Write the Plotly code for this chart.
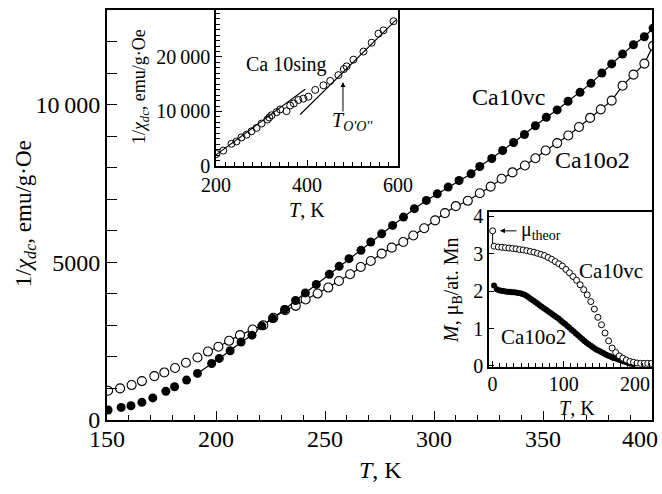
import plotly.graph_objects as go

# ---------------- main panel: 1/chi_dc vs T ----------------
T_vc = [150.5, 156.5, 161, 166, 171, 177, 181, 186.5, 191.5, 198, 201.5, 206.5, 211.5, 216.5, 221,
        226, 231.5, 236.5, 241, 246, 252, 256.5, 261, 266.5, 271, 276, 281, 286, 291, 296.5,
        301.5, 306.5, 311.5, 317, 321, 326.5, 331.5, 336.5, 341.5, 346.5, 351.5, 356.5, 361.5,
        367, 372, 377, 381.5, 386.5, 391.5, 396.5, 400.5]
chi_vc = [316, 400, 453, 560, 700, 910, 1054, 1266, 1477, 1793, 1952, 2194, 2470, 2690, 2985,
          3220, 3502, 3790, 4030, 4300, 4620, 4873, 5116, 5380, 5643, 5907, 6171, 6434, 6700, 6962,
          7170, 7384, 7595, 7806, 8038, 8290, 8544, 8800, 9051, 9330, 9600, 9832, 10105,
          10390, 10674, 11000, 11290, 11603, 11899, 12152, 12426]

T_o2 = [150.5, 156, 161.3, 166, 171.7, 176.3, 181.2, 186.2, 191.5, 196.3, 201.1, 206, 211, 216.8,
        221.7, 226.3, 231.7, 236.6, 241.1, 246.6, 251.5, 256.4, 261.5, 266.4, 271, 276, 280.6,
        285.9, 290.5, 295.5, 300.5, 305, 310, 315.5, 321, 326, 331, 336, 341.7, 346.5, 351.2,
        356.5, 361.6, 366.5, 371.6, 376.5, 381.5, 386.5, 391.5, 396.5, 400.5]
chi_o2 = [928, 1002, 1108, 1234, 1392, 1508, 1650, 1814, 1983, 2170, 2321, 2511, 2690, 2869,
          3006, 3240, 3481, 3620, 3819, 4009, 4199, 4409, 4620, 4852, 5041, 5275, 5465,
          5643, 5850, 6080, 6330, 6560, 6780, 6950, 7190, 7400, 7650, 7850, 8070, 8300, 8544,
          8780, 9019, 9290, 9578, 9850, 10127, 10600, 10950, 11300, 11867]
line_from_vc = 191   # the guide line through the points starts here (K)
line_from_o2 = 196

# ---------------- inset 1: Ca 10sing ----------------
T_sing = [201, 216, 234, 245, 256, 267, 278, 289, 300, 313, 317, 322, 333, 341, 355, 363, 371,
          381, 392, 403, 418, 436, 451, 469, 481, 487, 502, 524, 542, 557, 568, 590]
chi_sing = [2200, 2830, 4070, 4500, 5240, 5740, 6360, 6980, 7780, 8520, 8900, 9300, 9870, 10370,
            10060, 11100, 11480, 12100, 12350, 12700, 13950, 14800, 15600, 16660, 17780, 18270,
            19500, 20980, 22600, 24260, 24870, 26540]
fit1_T = [200, 396]
fit1_chi = [2040, 14070]
fit2_T = [385, 597]
fit2_chi = [9440, 26900]
T_OO = 479          # arrow position, K
T_OO_chi = 15400

# ---------------- inset 2: M vs T ----------------
T_Mvc = [2, 8, 13, 18, 23, 28, 33, 38, 43, 48, 53, 58, 63, 68, 73, 78, 83, 88, 93, 98, 103, 108,
         113, 118, 123, 128, 133, 138, 143, 148, 153, 158, 163, 168, 173, 178, 183, 188, 193, 198,
         203, 208, 213, 218, 223]
M_vc = [3.20, 3.18, 3.17, 3.16, 3.15, 3.14, 3.13, 3.11, 3.10, 3.08, 3.06, 3.04, 3.01, 2.98, 2.95,
        2.90, 2.85, 2.79, 2.73, 2.67, 2.58, 2.49, 2.39, 2.29, 2.17, 2.04, 1.90, 1.72, 1.52, 1.30,
        1.10, 0.88, 0.67, 0.48, 0.36, 0.27, 0.21, 0.16, 0.12, 0.10, 0.08, 0.07, 0.07, 0.07, 0.07]
T_Mo2 = [2, 6, 9, 12, 15, 18, 21, 24, 27, 30, 33, 36, 39, 42, 45, 48, 51, 54, 57, 60, 63, 66, 69,
         72, 75, 78, 81, 84, 87, 90, 93, 96, 99, 102, 105, 108, 111, 114, 117, 120, 123, 126, 129,
         132, 135, 138, 141, 144, 147, 150, 153, 156, 159, 162, 165, 168, 171, 174, 177, 180, 183,
         186, 189, 192, 195, 198]
M_o2 = [2.15, 2.05, 2.02, 2.01, 2.00, 1.99, 1.98, 1.98, 1.97, 1.97, 1.96, 1.95, 1.94, 1.92, 1.90,
        1.87, 1.83, 1.79, 1.75, 1.71, 1.67, 1.62, 1.58, 1.54, 1.50, 1.46, 1.42, 1.38, 1.34, 1.30,
        1.26, 1.21, 1.16, 1.12, 1.07, 1.02, 0.97, 0.92, 0.87, 0.82, 0.77, 0.72, 0.67, 0.62, 0.58,
        0.54, 0.50, 0.46, 0.43, 0.40, 0.37, 0.34, 0.31, 0.28, 0.26, 0.23, 0.21, 0.19, 0.17, 0.15,
        0.13, 0.11, 0.09, 0.07, 0.06, 0.05]
T_theor = [0, 0]
M_theor = [3.61, 3.22]

# tick labels
main_xticks = [150, 200, 250, 300, 350, 400]
main_xticktext = ["150", "200", "250", "300", "350", "400\u00a0\u00a0\u00a0\u00a0"]
main_yticks = [0, 5000, 10000]
main_yticktext = ["0", "5000", "10\u2009000"]
in1_xticks = [200, 400, 600]
in1_yticks = [0, 10000, 20000]
in1_yticktext = ["0", "10\u2009000", "20\u2009000"]
in2_xticks = [0, 100, 200]
in2_yticks = [0, 1, 2, 3, 4]

FONT = "Liberation Serif"
BLACK = "black"

fig = go.Figure()

def subset(T, v, t0):
    pairs = [(a, b) for a, b in zip(T, v) if a >= t0]
    return [p[0] for p in pairs], [p[1] for p in pairs]

# main guide lines
lx, ly = subset(T_vc, chi_vc, line_from_vc)
fig.add_trace(go.Scatter(x=lx, y=ly, mode="lines", line=dict(color=BLACK, width=1.2),
                         showlegend=False, hoverinfo="skip"))
lx, ly = subset(T_o2, chi_o2, line_from_o2)
fig.add_trace(go.Scatter(x=lx, y=ly, mode="lines", line=dict(color=BLACK, width=1.2),
                         showlegend=False, hoverinfo="skip"))
# main markers
fig.add_trace(go.Scatter(x=T_o2, y=chi_o2, mode="markers", name="Ca10o2",
                         marker=dict(symbol="circle", size=9, color="white",
                                     line=dict(color=BLACK, width=1.1)), showlegend=False))
fig.add_trace(go.Scatter(x=T_vc, y=chi_vc, mode="markers", name="Ca10vc",
                         marker=dict(symbol="circle", size=9, color=BLACK), showlegend=False))

# inset 1
fig.add_trace(go.Scatter(x=fit1_T, y=fit1_chi, mode="lines", xaxis="x2", yaxis="y2",
                         line=dict(color=BLACK, width=1.1), showlegend=False))
fig.add_trace(go.Scatter(x=fit2_T, y=fit2_chi, mode="lines", xaxis="x2", yaxis="y2",
                         line=dict(color=BLACK, width=1.1), showlegend=False))
fig.add_trace(go.Scatter(x=T_sing, y=chi_sing, mode="markers", xaxis="x2", yaxis="y2",
                         name="Ca 10sing",
                         marker=dict(symbol="circle-open", size=7, color=BLACK,
                                     line=dict(width=1)), showlegend=False))

# inset 2
fig.add_trace(go.Scatter(x=T_theor, y=M_theor, mode="lines", xaxis="x3", yaxis="y3",
                         line=dict(color=BLACK, width=1), showlegend=False))
fig.add_trace(go.Scatter(x=T_theor[:1], y=M_theor[:1], mode="markers", xaxis="x3", yaxis="y3",
                         marker=dict(symbol="circle", size=6, color="white",
                                     line=dict(color=BLACK, width=1)), showlegend=False))
fig.add_trace(go.Scatter(x=T_Mo2, y=M_o2, mode="markers", xaxis="x3", yaxis="y3", name="Ca10o2",
                         marker=dict(symbol="circle", size=6, color=BLACK), showlegend=False))
fig.add_trace(go.Scatter(x=T_Mvc, y=M_vc, mode="markers", xaxis="x3", yaxis="y3", name="Ca10vc",
                         marker=dict(symbol="circle", size=6, color="white",
                                     line=dict(color=BLACK, width=1)), showlegend=False))

axis_common = dict(showline=True, linecolor=BLACK, mirror=True, ticks="inside",
                   tickcolor=BLACK, showgrid=False, zeroline=False, fixedrange=True,
                   automargin=False, ticklabeloverflow="allow")

fig.update_layout(
    width=662, height=494,
    margin=dict(l=107, r=10, t=10, b=74),
    paper_bgcolor="white", plot_bgcolor="white",
    font=dict(family=FONT, color=BLACK),
    xaxis=dict(**axis_common, domain=[0, 1], range=[150, 400], linewidth=2,
               tickmode="array", tickvals=main_xticks, ticktext=main_xticktext, ticklen=9,
               tickwidth=1.3, tickfont=dict(size=24), ticklabelstandoff=-4,
               minor=dict(dtick=10, tick0=150, ticks="inside", ticklen=5, tickwidth=1.1,
                          tickcolor=BLACK)),
    yaxis=dict(**axis_common, domain=[0, 1], range=[0, 13000], linewidth=2,
               tickmode="array", tickvals=main_yticks, ticktext=main_yticktext, ticklen=10,
               tickwidth=1.3, tickfont=dict(size=24), ticklabelstandoff=0,
               minor=dict(dtick=1000, tick0=0, ticks="inside", ticklen=10, tickwidth=1.1,
                          tickcolor=BLACK)),
    xaxis2=dict(**axis_common, domain=[0.2, 0.534], anchor="y2", range=[200, 600], linewidth=1.6,
                tickmode="array", tickvals=in1_xticks, ticklen=6, tickwidth=1,
                tickfont=dict(size=20), ticklabelstandoff=0,
                minor=dict(dtick=20, tick0=200, ticks="inside", ticklen=4, tickwidth=1,
                           tickcolor=BLACK)),
    yaxis2=dict(**axis_common, domain=[0.6195, 1.0], anchor="x2", range=[0, 28600], linewidth=1.6,
                tickmode="array", tickvals=in1_yticks, ticktext=in1_yticktext, ticklen=6,
                tickwidth=1, tickfont=dict(size=20),
                minor=dict(dtick=1000, tick0=0, ticks="inside", ticklen=4, tickwidth=1,
                           tickcolor=BLACK)),
    xaxis3=dict(**axis_common, domain=[0.701, 1.0], anchor="y3", range=[-5, 224], linewidth=1.6,
                tickmode="array", tickvals=in2_xticks, ticklen=6, tickwidth=1,
                tickfont=dict(size=20), ticklabelstandoff=-2,
                minor=dict(dtick=10, tick0=0, ticks="inside", ticklen=4, tickwidth=1,
                           tickcolor=BLACK)),
    yaxis3=dict(**axis_common, domain=[0.129, 0.507], anchor="x3", range=[-0.03, 4.11],
                linewidth=1.6, tickmode="array", tickvals=in2_yticks, ticklen=5, tickwidth=1,
                tickfont=dict(size=20)),
)

def ann(text, x, y, size, angle=0, xanchor="center", yanchor="middle"):
    fig.add_annotation(text=text, x=x, y=y, xref="paper", yref="paper", showarrow=False,
                       textangle=angle, xanchor=xanchor, yanchor=yanchor,
                       font=dict(family=FONT, size=size, color=BLACK))

# axis titles
ann("1/<i>χ</i><sub><i>dc</i></sub>, emu/g·Oe", -0.1505, 0.505, 23, angle=-90)
ann("<i>T</i>, K", 0.501, -0.122, 24)
ann("1/<i>χ</i><sub><i>dc</i></sub>, emu/g·Oe", 0.0606, 0.812, 18, angle=-90)
ann("<i>T</i>, K", 0.367, 0.512, 20)
ann("<i>M</i>, μ<sub>B</sub>/at. Mn", 0.633, 0.317, 20, angle=-90)
ann("<i>T</i>, K", 0.862, 0.029, 20)

# series labels
ann("Ca10vc", 0.736, 0.788, 24)
ann("Ca10o2", 0.890, 0.634, 24)
ann("Ca 10sing", 0.330, 0.866, 20)
ann("<i>T</i><sub><i>O'O''</i></sub>", 0.451, 0.729, 20)
ann("Ca10vc", 0.925, 0.363, 21)
ann("Ca10o2", 0.782, 0.202, 21)
ann("μ<sub>theor</sub>", 0.756, 0.461, 20, xanchor="left")

# arrows
fig.add_annotation(x=T_OO, y=T_OO_chi, xref="x2", yref="y2", ax=0, ay=31, text="",
                   showarrow=True, arrowhead=2, arrowsize=1, arrowwidth=1, arrowcolor=BLACK)
fig.add_annotation(x=10.3, y=M_theor[0], xref="x3", yref="y3", ax=18, ay=0, text="",
                   showarrow=True, arrowhead=2, arrowsize=1, arrowwidth=1, arrowcolor=BLACK)

fig.write_html("out.html", config={"displayModeBar": False},
               post_script="document.body.style.margin='0';")
